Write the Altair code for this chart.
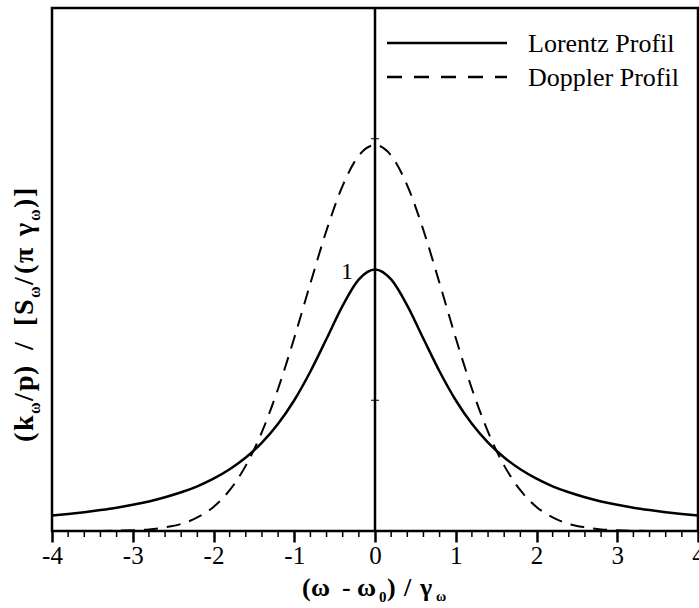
import altair as alt
import pandas as pd

# Normalised frequency offset (omega - omega0) / gamma
x_vals = [-4.0, -3.8, -3.6, -3.4, -3.2, -3.0, -2.8, -2.6, -2.4, -2.2,
          -2.0, -1.8, -1.6, -1.4, -1.2, -1.0, -0.8, -0.6, -0.4, -0.2,
          0.0, 0.2, 0.4, 0.6, 0.8, 1.0, 1.2, 1.4, 1.6, 1.8,
          2.0, 2.2, 2.4, 2.6, 2.8, 3.0, 3.2, 3.4, 3.6, 3.8, 4.0]

# Lorentz line profile
lorentz = [0.059, 0.065, 0.072, 0.080, 0.089, 0.100, 0.113, 0.129, 0.148, 0.171,
           0.200, 0.236, 0.281, 0.338, 0.410, 0.500, 0.610, 0.735, 0.862, 0.962,
           1.000, 0.962, 0.862, 0.735, 0.610, 0.500, 0.410, 0.338, 0.281, 0.236,
           0.200, 0.171, 0.148, 0.129, 0.113, 0.100, 0.089, 0.080, 0.072, 0.065, 0.059]

# Doppler line profile (same half width)
doppler = [0.000, 0.000, 0.000, 0.000, 0.001, 0.003, 0.006, 0.014, 0.027, 0.052,
           0.092, 0.156, 0.250, 0.379, 0.544, 0.738, 0.947, 1.150, 1.321, 1.436,
           1.476, 1.436, 1.321, 1.150, 0.947, 0.738, 0.544, 0.379, 0.250, 0.156,
           0.092, 0.052, 0.027, 0.014, 0.006, 0.003, 0.001, 0.000, 0.000, 0.000, 0.000]

major_ticks = [-4, -3, -2, -1, 0, 1, 2, 3, 4]
minor_ticks = [-3.8, -3.6, -3.4, -3.2, -2.8, -2.6, -2.4, -2.2, -1.8, -1.6, -1.4, -1.2,
               -0.8, -0.6, -0.4, -0.2, 0.2, 0.4, 0.6, 0.8, 1.2, 1.4, 1.6, 1.8,
               2.2, 2.4, 2.6, 2.8, 3.2, 3.4, 3.6, 3.8]
y_ticks = [0.5, 1.0, 1.5]
legend_labels = ["Lorentz Profil", "Doppler Profil"]

W, H = 646, 523
SERIF = "Liberation Serif"
TICK_FONT = 25

xs = alt.Scale(domain=[-4, 4], nice=False, zero=False)
ys = alt.Scale(domain=[0, 2], nice=False, zero=False)

df_l = pd.DataFrame({"x": x_vals, "y": lorentz})
df_d = pd.DataFrame({"x": x_vals, "y": doppler})

# one shared x axis definition, repeated on every layer that uses the x scale
x_axis = alt.Axis(values=major_ticks, title=None, domain=False, grid=False,
                  tickSize=11, tickWidth=2.5, tickColor="black",
                  labelFont=SERIF, labelFontSize=TICK_FONT, labelColor="black",
                  labelPadding=1, labelFlush=False, labelOverlap=False,
                  labelExpr="toString(datum.value)")

lor = alt.Chart(df_l).mark_line(color="black", strokeWidth=2.5, interpolate="monotone").encode(
    x=alt.X("x:Q", scale=xs, axis=x_axis),
    y=alt.Y("y:Q", scale=ys, axis=None),
)
dop = alt.Chart(df_d).mark_line(color="black", strokeWidth=2, strokeDash=[14, 9],
                                interpolate="monotone").encode(
    x=alt.X("x:Q", scale=xs, axis=x_axis),
    y=alt.Y("y:Q", scale=ys, axis=None),
)

# vertical axis through the line centre
vline = alt.Chart(pd.DataFrame({"x": [0]})).mark_rule(color="black", strokeWidth=2.5).encode(
    x=alt.X("x:Q", scale=xs, axis=x_axis), y=alt.value(0), y2=alt.value(H)
)
vticks = alt.Chart(pd.DataFrame({"y": y_ticks})).mark_rule(color="black", strokeWidth=1).encode(
    x=alt.datum(-0.05, scale=xs, axis=x_axis), x2=alt.datum(0.05),
    y=alt.Y("y:Q", scale=ys, axis=None)
)
one_label = alt.Chart(pd.DataFrame({"y": [1.0], "t": ["1"]})).mark_text(
    font=SERIF, fontSize=24, color="black", align="center", baseline="middle", dx=-28, dy=2
).encode(x=alt.datum(0, scale=xs, axis=x_axis), y=alt.Y("y:Q", scale=ys, axis=None), text="t:N")

minor = alt.Chart(pd.DataFrame({"x": minor_ticks})).mark_rule(color="black", strokeWidth=1.5).encode(
    x=alt.X("x:Q", scale=xs, axis=x_axis), y=alt.value(H), y2=alt.value(H + 6)
)

# legend
leg_solid = alt.Chart(pd.DataFrame({"a": [0]})).mark_rule(color="black", strokeWidth=2.5).encode(
    x=alt.value(335), x2=alt.value(455), y=alt.value(35)
)
leg_dash = alt.Chart(pd.DataFrame({"a": [0]})).mark_rule(color="black", strokeWidth=2.5,
                                                         strokeDash=[15, 12]).encode(
    x=alt.value(335), x2=alt.value(455), y=alt.value(69)
)


def label(text, x, y, size, bold=False, angle=0):
    return alt.Chart(pd.DataFrame({"t": [text]})).mark_text(
        font=SERIF, fontSize=size, fontWeight="bold" if bold else "normal", color="black",
        align="left", baseline="alphabetic", angle=angle
    ).encode(x=alt.value(x), y=alt.value(y), text="t:N")


leg_text = [label(legend_labels[0], 476, 44, 26), label(legend_labels[1], 476, 78, 26)]

# axis titles built from pieces so the subscripts sit lower
ox, oy = 52, 8
xt = [("(", 302, 596, 26), ("\u03c9", 311, 596, 26), ("-", 342, 596, 26),
      ("\u03c9", 357, 596, 26), ("0", 379, 602, 15), (")", 387, 596, 26),
      ("/", 404, 596, 26), ("\u03b3", 420, 596, 26), ("\u03c9", 436, 601, 14)]
MAIN_X, SUB_X = 33, 40
yt = [("(", MAIN_X, 442, 28), ("k", MAIN_X, 431, 28), ("\u03c9", SUB_X, 414, 16),
      ("/", MAIN_X, 401, 28), ("p", MAIN_X, 391, 28), (")", MAIN_X, 375, 28),
      ("/", MAIN_X, 350, 28), ("[", MAIN_X, 326, 28), ("S", MAIN_X, 315, 28),
      ("\u03c9", SUB_X, 298, 16), ("/", MAIN_X, 285, 28), ("(", MAIN_X, 274, 28),
      ("\u03c0", MAIN_X, 263, 28), ("\u03b3", MAIN_X, 236, 28), ("\u03c9", SUB_X, 221, 16),
      (")", MAIN_X, 208, 28), ("]", MAIN_X, 197, 28)]

titles = [label(t, x - ox, y - oy, s, bold=True) for t, x, y, s in xt]
titles += [label(t, x - ox, y - oy, s, bold=True, angle=270) for t, x, y, s in yt]

chart = alt.layer(
    minor, vline, vticks, lor, dop, one_label, leg_solid, leg_dash, *leg_text, *titles
).properties(
    width=W, height=H,
    autosize=alt.AutoSizeParams(type="none"),
    padding={"left": ox, "top": oy, "right": 1, "bottom": 77},
    background="white",
).configure_view(stroke="black", strokeWidth=2.5).configure_axis(
    grid=False, labelFont=SERIF, labelFontSize=TICK_FONT, labelColor="black"
)

chart.save("out.html", embed_options={"renderer": "svg", "actions": False})
